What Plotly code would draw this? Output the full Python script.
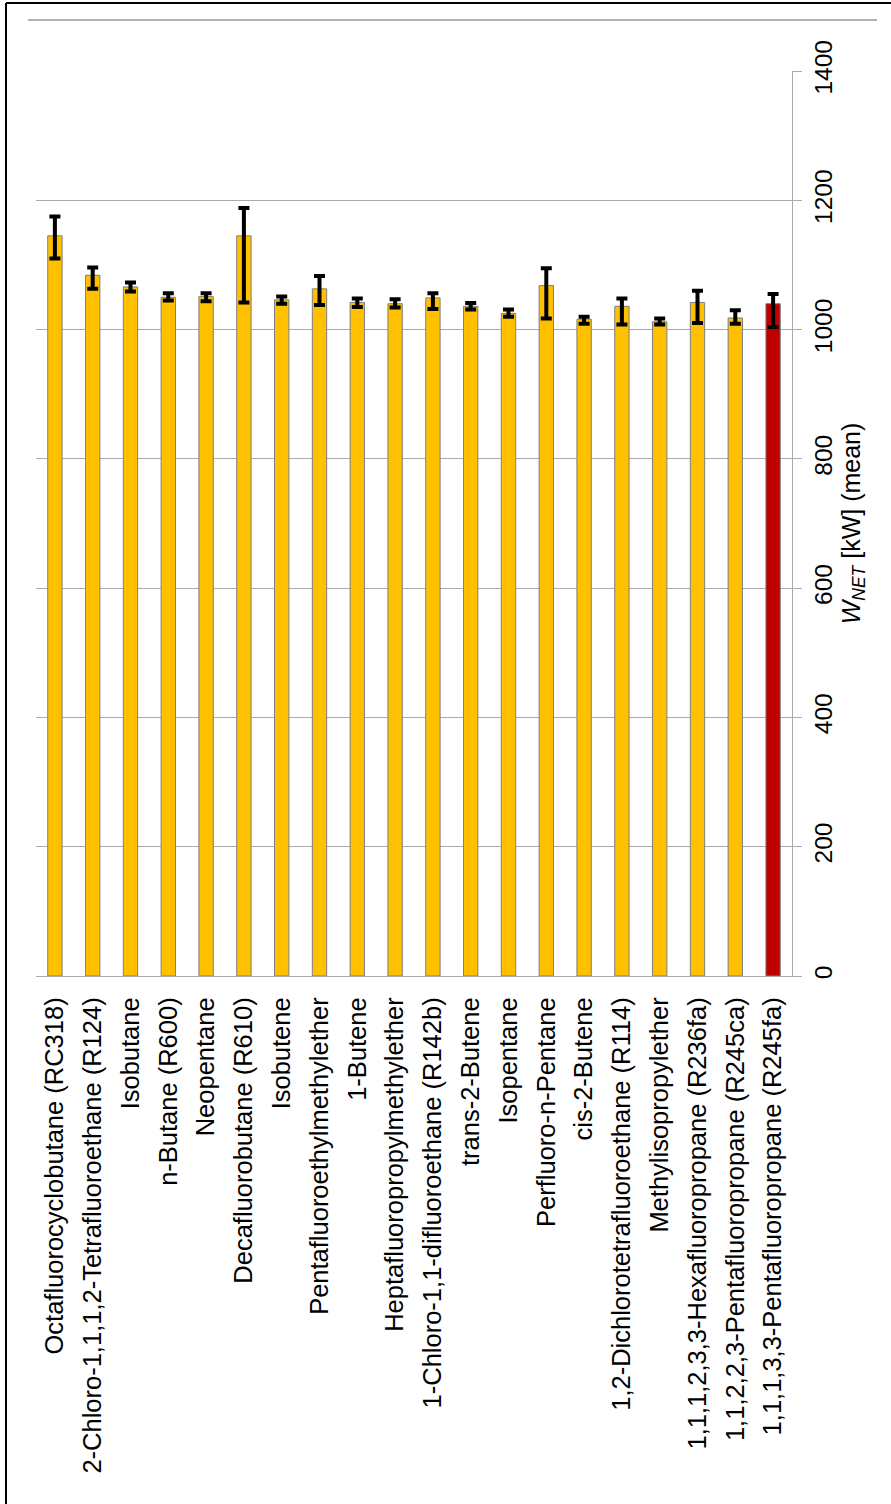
import plotly.graph_objects as go

# Working fluids, ordered as plotted
fluids = [
    "Octafluorocyclobutane (RC318)",
    "2-Chloro-1,1,1,2-Tetrafluoroethane (R124)",
    "Isobutane",
    "n-Butane (R600)",
    "Neopentane",
    "Decafluorobutane (R610)",
    "Isobutene",
    "Pentafluoroethylmethylether",
    "1-Butene",
    "Heptafluoropropylmethylether",
    "1-Chloro-1,1-difluoroethane (R142b)",
    "trans-2-Butene",
    "Isopentane",
    "Perfluoro-n-Pentane",
    "cis-2-Butene",
    "1,2-Dichlorotetrafluoroethane (R114)",
    "Methylisopropylether",
    "1,1,1,2,3,3-Hexafluoropropane (R236fa)",
    "1,1,2,2,3-Pentafluoropropane (R245ca)",
    "1,1,1,3,3-Pentafluoropropane (R245fa)",
]

# Mean net power output [kW]
w_net_mean = [1145, 1084, 1066, 1050, 1051, 1145, 1046, 1063, 1042, 1040,
              1049, 1036, 1025, 1068, 1016, 1036, 1012, 1042, 1018, 1040]

# Upper / lower deviation of each mean [kW]
err_up = [30, 12, 7, 6, 5, 43, 5, 20, 6, 7,
          7, 5, 6, 27, 4, 12, 5, 18, 12, 15]
err_down = [35, 21, 7, 5, 7, 103, 6, 25, 7, 6,
            17, 5, 5, 51, 7, 28, 4, 32, 9, 36]

reference_fluid = "1,1,1,3,3-Pentafluoropropane (R245fa)"

W, H = 891, 1504
ML, MR, MT, MB = 36, 99, 71, 528
PW, PH = W - ML - MR, H - MT - MB


def px_x(x):
    return (x - ML) / PW


def px_y(y):
    return (H - MB - y) / PH


FONT = "Liberation Sans, Arial, sans-serif"
GRID = "#ababab"

colors = ["#C00000" if f == reference_fluid else "#FFC000" for f in fluids]

fig = go.Figure(
    go.Bar(
        x=fluids,
        y=w_net_mean,
        marker=dict(color=colors, line=dict(color="#7f7f7f", width=1)),
        error_y=dict(
            type="data",
            symmetric=False,
            array=err_up,
            arrayminus=err_down,
            color="black",
            thickness=4,
            width=5.5,
        ),
    )
)

fig.update_layout(
    width=W,
    height=H,
    margin=dict(l=ML, r=MR, t=MT, b=MB, autoexpand=False),
    paper_bgcolor="white",
    plot_bgcolor="white",
    font=dict(family=FONT, size=24, color="black"),
    showlegend=False,
    bargap=0.62,
    xaxis=dict(
        type="category",
        tickangle=-90,
        ticks="",
        showgrid=False,
        showline=True,
        linecolor=GRID,
        linewidth=1.3,
        tickfont=dict(family=FONT, size=25.5, color="black"),
        ticklabelstandoff=10,
        automargin=False,
    ),
    yaxis=dict(
        side="right",
        range=[0, 1400],
        dtick=200,
        tickangle=-90,
        showgrid=True,
        gridcolor=GRID,
        gridwidth=1.3,
        zeroline=False,
        ticks="outside",
        ticklen=9,
        tickwidth=1.3,
        tickcolor=GRID,
        showline=True,
        linecolor=GRID,
        linewidth=1.3,
        tickfont=dict(family=FONT, size=24.5, color="black"),
        title=dict(
            text="<i>W</i><sub><i>NET</i></sub> [kW] (mean)",
            font=dict(family=FONT, size=25, color="black"),
            standoff=6,
        ),
        automargin=False,
    ),
    shapes=[
        # frame around the chart
        dict(type="line", xref="paper", yref="paper",
             x0=px_x(6), x1=px_x(W + 5), y0=px_y(3), y1=px_y(3),
             line=dict(color="black", width=2)),
        dict(type="line", xref="paper", yref="paper",
             x0=px_x(6), x1=px_x(6), y0=px_y(3), y1=px_y(H + 5),
             line=dict(color="black", width=2)),
        # rule above the plot area
        dict(type="line", xref="paper", yref="paper",
             x0=px_x(28), x1=px_x(877), y0=px_y(20), y1=px_y(20),
             line=dict(color="#999999", width=1.5)),
    ],
)

fig.write_html("out.html")
